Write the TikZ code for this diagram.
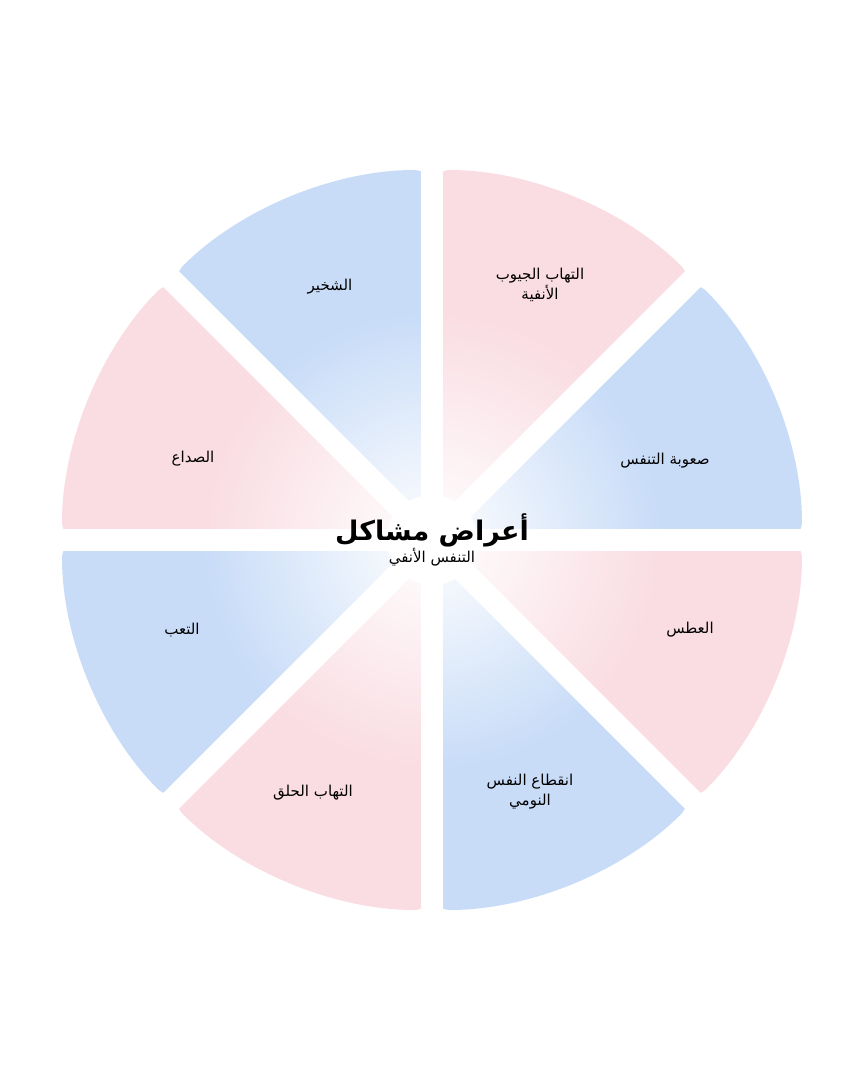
\documentclass[tikz,border=0pt]{standalone}
\usepackage{fontspec}
\TeXXeTstate=1
\newfontfamily\arabicfont[Script=Arabic]{DejaVu Sans}
\usetikzlibrary{fadings}
\definecolor{bluesec}{HTML}{C8DCF8}
\definecolor{pinksec}{HTML}{FADDE3}
\tikzfading[name=centreglow,inner color=transparent!0,outer color=transparent!100]
\tikzset{
  sector/.style={rounded corners=18pt},
  gap/.style={white,line width=22pt},
  label/.style={font=\arabicfont\fontsize{15}{20}\selectfont,align=center},
}
\begin{document}
\begin{tikzpicture}[x=1pt,y=1pt]
  \useasboundingbox[fill=white] (-432,-540) rectangle (432,540);

  % sectors
  \foreach \a/\c in {0/bluesec,45/pinksec,90/bluesec,135/pinksec,180/bluesec,225/pinksec,270/bluesec,315/pinksec}
    \fill[sector,\c] (0,0) -- (\a:370) arc (\a:\a+45:370) -- cycle;

  % gaps between the sectors
  \foreach \a in {0,45,...,315}
    \draw[gap] (0,0) -- (\a:400);

  % soft centre
  \fill[white,path fading=centreglow] (0,0) circle (230);
  \fill[white] (0,0) circle (45);

  % texts
  \node[label] (title) at (0,0) {\arabicfont\bfseries\fontsize{27}{52}\selectfont\beginR أعراض مشاكل\endR\\\beginR التنفس الأنفي\endR};
  \node[label] (s1) at (108,255) {\beginR التهاب الجيوب\endR\\\beginR الأنفية\endR};
  \node[label] (s2) at (-102,253) {\beginR الشخير\endR};
  \node[label] (s3) at (233,79) {\beginR صعوبة التنفس\endR};
  \node[label] (s4) at (-239,81) {\beginR الصداع\endR};
  \node[label] (s5) at (258,-90) {\beginR العطس\endR};
  \node[label] (s6) at (-250,-90) {\beginR التعب\endR};
  \node[label] (s7) at (-119,-253) {\beginR التهاب الحلق\endR};
  \node[label] (s8) at (98,-252) {\beginR انقطاع النفس\endR\\\beginR النومي\endR};
\end{tikzpicture}
\end{document}
